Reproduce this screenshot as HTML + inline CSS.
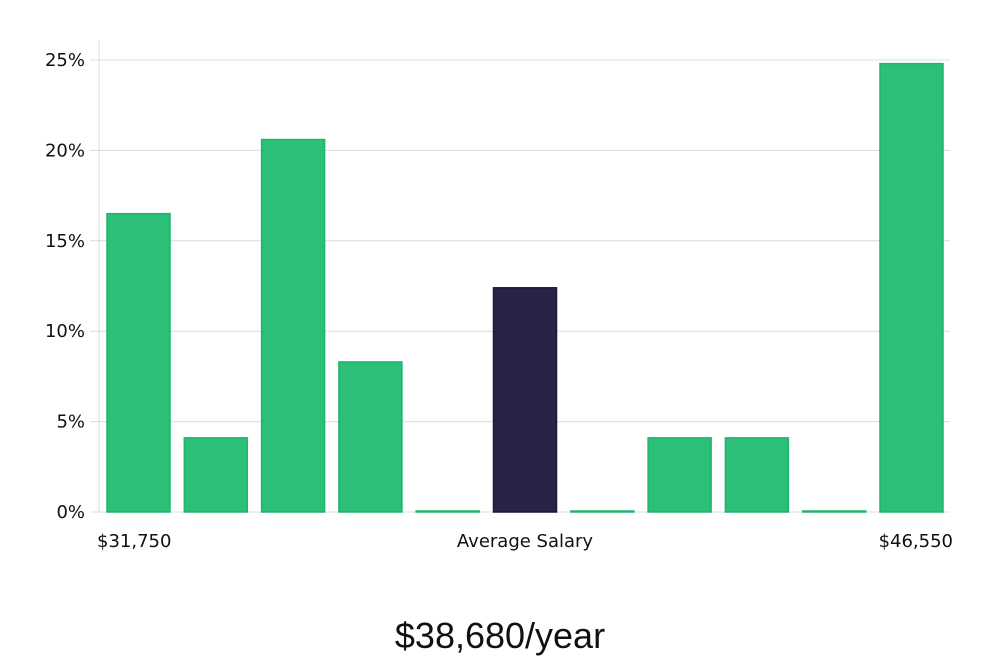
<!DOCTYPE html>
<html><head><meta charset="utf-8"><style>
html,body{margin:0;padding:0;background:#fff;}
svg{display:block;font-family:"DejaVu Sans","Liberation Sans",sans-serif;}
</style></head><body>
<svg id="chart" width="1000" height="660" viewBox="0 0 1000 660" xmlns="http://www.w3.org/2000/svg">
<g id="grid"></g>
<g id="bars"></g>
<g id="axes"></g>
<text x="97" y="547" font-size="18" fill="#111">$31,750</text>
<text x="525" y="547" font-size="18" fill="#111" text-anchor="middle">Average Salary</text>
<text x="953" y="547" font-size="18" fill="#111" text-anchor="end">$46,550</text>
<text x="500" y="648" font-size="36" fill="#111" text-anchor="middle" font-family="'Liberation Sans',sans-serif">$38,680/year</text>
</svg>
<script>
const values = [16.5, 4.1, 20.6, 8.3, 0, 12.4, 0, 4.1, 4.1, 0, 24.8];
const highlight = [false, false, false, false, false, true, false, false, false, false, false];
const yTicks = [0, 5, 10, 15, 20, 25];
const yTickLabels = ["0%", "5%", "10%", "15%", "20%", "25%"];

const NS = "http://www.w3.org/2000/svg";
const x0 = 99, x1 = 950, y0 = 512, yTop = 60;
const yMaxVal = 25;
function yScale(v){ return y0 - (v / yMaxVal) * (y0 - yTop); }
const step = 77.3, bw = 63, firstX = 107;
function xScale(i){ return firstX + i * step; }
function mk(tag, attrs){ const e = document.createElementNS(NS, tag); for (const k in attrs) e.setAttribute(k, attrs[k]); return e; }

const grid = document.getElementById('grid');
const axes = document.getElementById('axes');
yTicks.forEach((t, i) => {
  const y = yScale(t);
  const gl = mk('line', {x1: 90, x2: x1, y1: y, y2: y, stroke: '#dcdcdc', 'stroke-width': 1});
  
  
  grid.appendChild(gl);
  const tx = mk('text', {x: 85, y: y + 6, 'font-size': 18, fill: '#111', 'text-anchor': 'end'});
  tx.textContent = yTickLabels[i];
  
  
  axes.appendChild(tx);
});
const ya = mk('line', {x1: x0, x2: x0, y1: 40, y2: y0, stroke: '#dcdcdc', 'stroke-width': 1});


axes.appendChild(ya);

const bars = document.getElementById('bars');
values.forEach((v, i) => {
  const y = yScale(v);
  const h = Math.max(y0 - y, 1);
  const hl = highlight[i];
  const r = mk('rect', {x: xScale(i), y: y0 - h, width: bw, height: h,
    fill: hl ? '#272447' : '#2bbf77', stroke: hl ? '#1a1838' : '#22b36c', 'stroke-width': 1.5});
  
  
  bars.appendChild(r);
});
</script>
</body></html>
